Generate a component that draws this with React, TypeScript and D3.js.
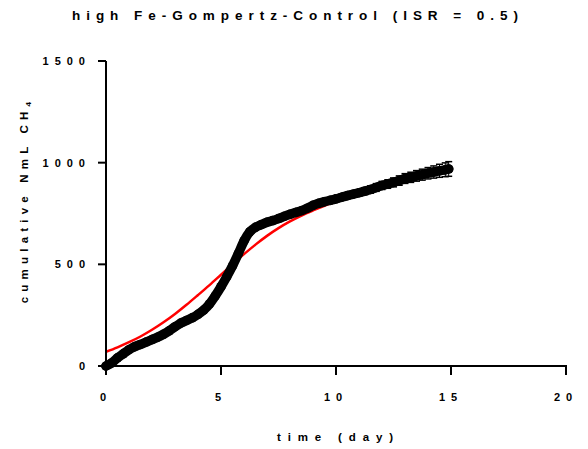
import React, { useEffect, useRef } from "react";
import * as d3 from "d3";

const title = "high Fe-Gompertz-Control (ISR = 0.5)";
const xTitle = "time (day)";
const yTitleMain = "cumulative NmL CH";
const yTitleSub = "4";
const xTicks = [0, 5, 10, 15, 20];
const yTicks = [0, 500, 1000, 1500];

// measured cumulative methane (mean) and SD
const tDays = [0, 0.25, 0.5, 0.75, 1.0, 1.25, 1.5, 1.75, 2.0, 2.25, 2.5, 2.75, 3.0, 3.25, 3.5, 3.75, 4.0, 4.25, 4.5, 4.75, 5.0, 5.25, 5.5, 5.75, 6.0, 6.25, 6.5, 6.75, 7.0, 7.25, 7.5, 7.75, 8.0, 8.25, 8.5, 8.75, 9.0, 9.25, 9.5, 9.75, 10.0, 10.25, 10.5, 10.75, 11.0, 11.25, 11.5, 11.75, 12.0, 12.25, 12.5, 12.75, 13.0, 13.25, 13.5, 13.75, 14.0, 14.25, 14.5, 14.75, 14.9];
const measured = [0, 15, 40, 60, 80, 95, 106, 118, 130, 142, 156, 173, 193, 211, 224, 237, 254, 275, 305, 345, 390, 439, 492, 552, 615, 660, 682, 695, 707, 715, 725, 736, 746, 755, 764, 776, 790, 800, 808, 815, 822, 830, 838, 845, 852, 860, 868, 878, 888, 895, 903, 912, 922, 928, 935, 941, 948, 954, 960, 965, 969];
const measuredSd = [0, 3, 4, 4, 5, 5, 5, 5, 5, 5, 5, 5, 5, 5, 5, 6, 6, 6, 7, 8, 9, 10, 11, 12, 12, 12, 12, 12, 12, 12, 12, 12, 12, 12, 12, 12, 12, 13, 13, 13, 14, 14, 15, 15, 16, 17, 18, 19, 20, 21, 22, 23, 24, 25, 26, 27, 28, 30, 32, 34, 36];

// Gompertz fit curve
const fitT = [0, 0.5, 1, 1.5, 2, 2.5, 3, 3.5, 4, 4.5, 5, 5.5, 6, 6.5, 7, 7.5, 8, 8.5, 9, 9.5, 10, 10.5, 11, 11.5, 12, 12.5, 13, 13.5, 14, 14.5, 14.9];
const fitV = [70, 92, 117, 145, 178, 215, 256, 301, 349, 398, 449, 500, 550, 597, 640, 678, 711, 740, 765, 788, 808, 829, 848, 866, 883, 899, 915, 930, 943, 955, 965];

const W = 588;
const H = 449;
const FONT = "'Liberation Sans', Arial, Helvetica, sans-serif";

export default function App() {
  const ref = useRef<SVGSVGElement>(null);

  useEffect(() => {
    const svg = d3.select(ref.current);
    svg.selectAll("*").remove();

    const x = d3.scaleLinear().domain([0, 20]).range([106, 566]);
    const y = d3.scaleLinear().domain([0, 1500]).range([366, 61]);

    // title
    svg.append("text")
      .attr("x", 72).attr("y", 20)
      .attr("textLength", 446).attr("lengthAdjust", "spacing")
      .attr("font-family", FONT).attr("font-weight", "bold").attr("font-size", 13.5)
      .attr("fill", "#000")
      .text(title);

    // fit curve (red)
    const fitData = fitT.map((t, i) => [t, fitV[i]] as [number, number]);
    svg.append("path")
      .datum(fitData)
      .attr("fill", "none")
      .attr("stroke", "#ff0000")
      .attr("stroke-width", 2.5)
      .attr("d", d3.line<[number, number]>().x(d => x(d[0])).y(d => y(d[1])).curve(d3.curveMonotoneX));

    // measured data (black)
    const data = tDays.map((t, i) => ({ t, v: measured[i], sd: measuredSd[i] }));
    const g = svg.append("g");
    g.append("path")
      .datum(data)
      .attr("fill", "none")
      .attr("stroke", "#000")
      .attr("stroke-width", 9.5)
      .attr("stroke-linecap", "round")
      .attr("stroke-linejoin", "round")
      .attr("d", d3.line<{ t: number; v: number }>().x(d => x(d.t)).y(d => y(d.v)).curve(d3.curveMonotoneX));

    const eb = g.selectAll("g.eb").data(data).enter().append("g");
    eb.append("line")
      .attr("x1", d => x(d.t)).attr("x2", d => x(d.t))
      .attr("y1", d => y(d.v + d.sd)).attr("y2", d => y(d.v - d.sd))
      .attr("stroke", "#000").attr("stroke-width", 1);
    eb.append("line")
      .attr("x1", d => x(d.t) - 3.5).attr("x2", d => x(d.t) + 3.5)
      .attr("y1", d => y(d.v + d.sd)).attr("y2", d => y(d.v + d.sd))
      .attr("stroke", "#000").attr("stroke-width", 1.5);
    eb.append("line")
      .attr("x1", d => x(d.t) - 3.5).attr("x2", d => x(d.t) + 3.5)
      .attr("y1", d => y(d.v - d.sd)).attr("y2", d => y(d.v - d.sd))
      .attr("stroke", "#000").attr("stroke-width", 1.5);
    eb.append("circle")
      .attr("cx", d => x(d.t)).attr("cy", d => y(d.v)).attr("r", 4.75)
      .attr("fill", "#000");

    // axes
    const axes = svg.append("g").attr("stroke", "#000").attr("stroke-width", 2);
    axes.append("line").attr("x1", x(0)).attr("x2", x(0)).attr("y1", y(1500)).attr("y2", y(0) + 1);
    axes.append("line").attr("x1", x(0) - 1).attr("x2", x(20) + 1).attr("y1", y(0)).attr("y2", y(0));
    yTicks.forEach(v => {
      axes.append("line").attr("x1", x(0) - 8).attr("x2", x(0)).attr("y1", y(v)).attr("y2", y(v));
    });
    xTicks.forEach(t => {
      axes.append("line").attr("x1", x(t)).attr("x2", x(t)).attr("y1", y(0)).attr("y2", y(0) + 9);
    });

    const tickFont = (sel: any) => sel
      .attr("font-family", FONT).attr("font-weight", "bold").attr("font-size", 11)
      .attr("letter-spacing", 6).attr("fill", "#000");

    yTicks.forEach(v => {
      svg.append("text").call(tickFont)
        .attr("x", 91).attr("y", y(v) + 4)
        .attr("text-anchor", "end")
        .text(String(v));
    });
    xTicks.forEach(t => {
      svg.append("text").call(tickFont)
        .attr("x", x(t)).attr("y", 401)
        .attr("text-anchor", "middle")
        .text(String(t));
    });

    // x title
    svg.append("text")
      .attr("x", 277).attr("y", 441)
      .attr("textLength", 116).attr("lengthAdjust", "spacing")
      .attr("font-family", FONT).attr("font-weight", "bold").attr("font-size", 11.5)
      .attr("fill", "#000")
      .text(xTitle);

    // y title
    const yt = svg.append("text")
      .attr("transform", "translate(28,200) rotate(-90)")
      .attr("text-anchor", "middle")
      .attr("font-family", FONT).attr("font-weight", "bold").attr("font-size", 11.5)
      .attr("letter-spacing", 5.2)
      .attr("fill", "#000");
    yt.append("tspan").text(yTitleMain);
    yt.append("tspan").attr("font-size", 8).attr("dy", 3).text(yTitleSub);
  }, []);

  return (
    <svg
      ref={ref}
      width={W}
      height={H}
      style={{ position: "absolute", left: 0, top: 0, background: "#fff" }}
    />
  );
}
